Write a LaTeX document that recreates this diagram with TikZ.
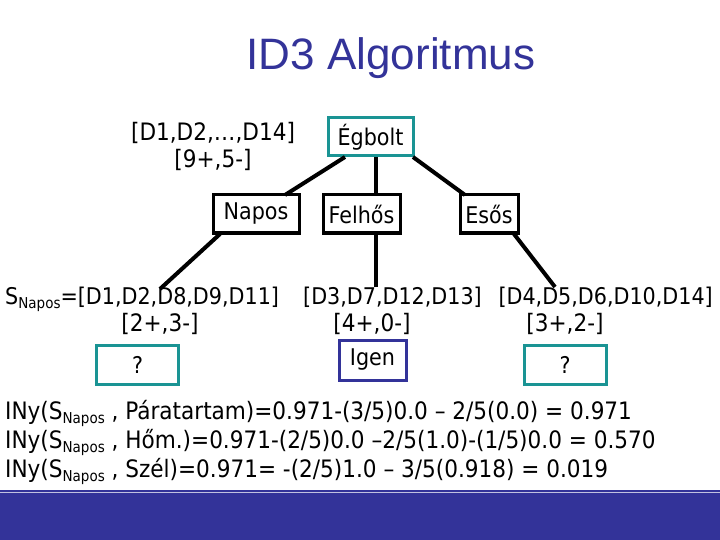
\documentclass[tikz,border=0pt]{standalone}
\usepackage{fontspec}
\setmainfont{DejaVu Sans Condensed}
\newfontfamily\titlefont{Liberation Sans}
\definecolor{teal1}{HTML}{1A9494}
\definecolor{navy1}{HTML}{333399}
\newcommand\subn{\raisebox{-4pt}{\fontsize{15}{16}\selectfont Napos}}
\begin{document}
\begin{tikzpicture}[x=1pt,y=-1pt,
  txt/.style={inner sep=0pt,font=\fontsize{24}{27}\selectfont},
  srow/.style={inner sep=0pt,font=\fontsize{23}{25}\selectfont},
  box/.style={draw,line width=3pt,inner sep=0pt,minimum height=38pt,font=\fontsize{23}{25}\selectfont},
  edge/.style={line width=4pt}]
\useasboundingbox (0,0) rectangle (720,540);
\fill[navy1] (0,490) rectangle (720,540);
\draw[white!70!navy1,line width=1pt] (0,492) -- (720,492);
\node[font=\titlefont\fontsize{44}{46}\selectfont,text=navy1] (title) at (391,58) {ID3 Algoritmus};
\node[txt,align=center] (root) at (213,146) {[D1,D2,…,D14]\\{}[9+,5-]};
\node[box,draw=teal1,minimum width=85pt] (egb) at (370.5,137) {Égbolt};
\node[box,minimum width=86pt] (nap) at (256,214) {Napos};
\node[box,minimum width=77pt] (fel) at (361.5,214) {Felhős};
\node[box,minimum width=58pt] (eso) at (489,214) {Esős};
\draw[edge] (345,157) -- (285,195);
\draw[edge] (376,157) -- (376,195);
\draw[edge] (413,157) -- (465,195);
\coordinate (e1) at (160,289);
\coordinate (e2) at (376,287);
\coordinate (e3) at (555,287);
\draw[edge] (220,234) -- (e1);
\draw[edge] (376,234) -- (e2);
\draw[edge] (514,234) -- (e3);
\node[srow,anchor=base west] (s1) at (5,304) {S\subn=[D1,D2,D8,D9,D11]};
\node[srow,anchor=base west] (s2) at (303,304) {[D3,D7,D12,D13]};
\node[srow,anchor=base east] (s3) at (713,304) {[D4,D5,D6,D10,D14]};
\node[txt,anchor=base] (c1) at (160,331) {[2+,3-]};
\node[txt,anchor=base] (c2) at (372,331) {[4+,0-]};
\node[txt,anchor=base] (c3) at (565,331) {[3+,2-]};
\node[box,draw=teal1,minimum width=82pt,minimum height=39pt] (q1) at (137.5,365) {?};
\node[box,draw=navy1,minimum width=67pt,minimum height=40pt,text depth=6pt] (ig) at (372.5,360) {Igen};
\node[box,draw=teal1,minimum width=82pt,minimum height=39pt] (q2) at (565,365) {?};
\node[txt,anchor=base west] (l1) at (5,419) {INy(S\subn{} , Páratartam)=0.971-(3/5)0.0 – 2/5(0.0) = 0.971};
\node[txt,anchor=base west] (l2) at (5,448) {INy(S\subn{} , Hőm.)=0.971-(2/5)0.0 –2/5(1.0)-(1/5)0.0 = 0.570};
\node[txt,anchor=base west] (l3) at (5,477) {INy(S\subn{} , Szél)=0.971= -(2/5)1.0 – 3/5(0.918) = 0.019};
\end{tikzpicture}
\end{document}
